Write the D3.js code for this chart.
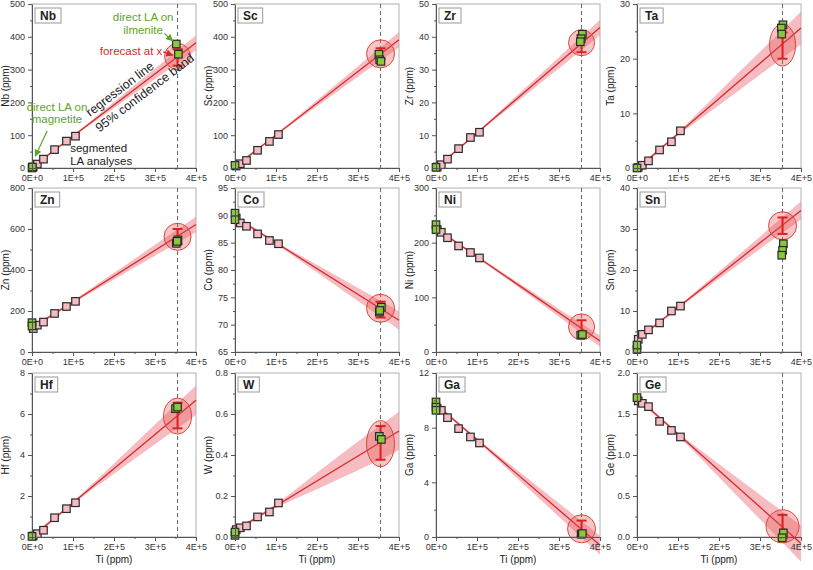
<!DOCTYPE html>
<html><head><meta charset="utf-8">
<script src="https://cdn.jsdelivr.net/npm/d3@7"></script>
<style>body{margin:0;background:#fff} svg{font-family:"Liberation Sans",Arial,sans-serif}</style>
</head><body><svg id="c" width="813" height="570"></svg>
<script>
// ---------- DATA ----------
const elements = ["Nb","Sc","Zr","Ta","Zn","Co","Ni","Sn","Hf","W","Ga","Ge"];
const tiDomain = [0, 400000];
const xTicks = [0, 100000, 200000, 300000, 400000];
const xTickLabels = ["0E+0","1E+5","2E+5","3E+5","4E+5"];
const yDomains = [[0,500],[0,500],[0,50],[0,30],[0,800],[65,95],[0,300],[0,40],[0,8],[0,0.8],[0,12],[0,2]];
const yTicks = [
  [0,100,200,300,400,500],[0,100,200,300,400,500],[0,10,20,30,40,50],[0,10,20,30],
  [0,200,400,600,800],[65,70,75,80,85,90,95],[0,100,200,300],[0,10,20,30,40],
  [0,2,4,6,8],[0,0.2,0.4,0.6,0.8],[0,4,8,12],[0,0.5,1,1.5,2]];
const yTickDecimals = [0,0,0,0,0,0,0,0,0,1,0,1];

// segmented LA analyses (pink)
const segTi = [3000, 13000, 28000, 55000, 84000, 106000];
const segValues = [
  [3,12,27,56,82,97],
  [6,13,23,54,81,102],
  [0.3,1.0,2.7,5.9,9.3,10.9],
  [0.1,0.5,1.3,3.3,4.8,6.8],
  [114,131,146,188,222,247],
  [89.5,88.6,88.0,86.6,85.4,84.8],
  [224,219,209,194,182,172],
  [3.1,4.3,5.4,7.1,10.0,11.2],
  [0.05,0.16,0.33,0.94,1.38,1.67],
  [0.036,0.045,0.054,0.098,0.122,0.166],
  [9.4,9.27,8.73,7.93,7.32,6.88],
  [1.66,1.63,1.59,1.41,1.30,1.22]];

// direct LA on magnetite (green, Ti ~ 0)
const magnetiteTi = [[0,1000],[0],[0],[0],[0,0],[0,0],[0,0],[0,0],[0],[0,0],[0,0,0],[0]];
const magnetiteValues = [[0,3],[8],[0.2],[0],[143,127],[90.4,89.2],[233,224],[0.6,1.7],[0.03],[0.008,0.024],[9.88,9.5,9.27],[1.70]];

// direct LA on ilmenite (green)
const ilmeniteTi = [
  [352000,357000],[351000,353000,356000],[357000,354000,352000],[356000,352000,353000],
  [356000,352000,354000],[357000,352000,353000],[353000,357000],[357000,355000,353000],
  [350000,355000],[352000,357000],[354000,357000],[357000,354000]];
const ilmeniteValues = [
  [378,347],[347,330,325],[40.8,39.4,38.5],[26.2,25.6,24.5],
  [547,530,540],[73.2,72.3,72.6],[31,32],[26.4,24.8,23.6],
  [6.26,6.34],[0.491,0.476],[0.2,0.25],[0.05,-0.01]];

// regression line: value at Ti = 0 and at Ti = 4E+5
const lineStart = [2,4,0,-0.2,118,89.7,226,3.0,0,0.03,9.7,1.7];
const lineEnd   = [382,391,42.8,25.6,622,70.8,20,34.5,6.67,0.517,-0.6,-0.08];

// 95% confidence band half-width at bandTi
const bandTi = [0, 100000, 200000, 300000, 400000];
const bandHalf = [
  [5,3,9,16,23],[5,3,9,16,24],[0.5,0.3,1.0,1.7,2.3],[0.4,0.3,1.2,2.1,3.0],
  [10,6,16,27,38],[0.4,0.25,0.7,1.2,1.7],[3,2,4,7,10],[0.5,0.3,0.9,1.5,2.2],
  [0.12,0.06,0.25,0.48,0.72],[0.01,0.01,0.04,0.07,0.094],[0.15,0.1,0.3,0.5,0.7],[0.03,0.02,0.08,0.15,0.22]];

// forecast at x
const forecastTi = 355000;
const forecastValue = [340,348,38.2,22.5,562,73.0,46,30.8,5.9,0.455,0.6,0.13];
const forecastLow   = [312,332,35.3,20.0,525,71.3,35,28.8,5.3,0.377,0.05,-0.02];
const forecastHigh  = [362,365,40.5,24.8,600,74.2,58,32.8,6.55,0.541,1.2,0.27];

// ---------- STYLE / LAYOUT ----------
const ellipsePx = [[13,13],[14,14],[13,13],[13,21],[13.5,13.5],[14,14],[13,13],[14,14],[14,18],[14,23],[14,14],[16.5,16.5]];
const colLeft = [32, 235, 436, 637], rowTop = [4, 188, 373], PW = 164, PH = 164;
const RED = "#d42a2a", GREEN_FILL = "#8cc63f", PINK_FILL = "#f6bcc4", TXT = "#333";
const GREEN_TXT = "#5da42c";

const svg = d3.select("#c");
const defs = svg.append("defs");
[["arrG", GREEN_TXT], ["arrR", RED]].forEach(([id, col]) => {
  defs.append("marker").attr("id", id).attr("viewBox", "0 0 10 10").attr("refX", 9).attr("refY", 5)
    .attr("markerWidth", 6).attr("markerHeight", 6).attr("orient", "auto")
    .append("path").attr("d", "M0,0L10,5L0,10z").attr("fill", col);
});

let nbScales = null;

elements.forEach((el, i) => {
  const c = i % 4, r = Math.floor(i / 4);
  const L = colLeft[c], T = rowTop[r];
  const x = d3.scaleLinear().domain(tiDomain).range([L, L + PW]);
  const y = d3.scaleLinear().domain(yDomains[i]).range([T + PH, T]);
  if (i === 0) nbScales = { x, y };
  const g = svg.append("g");

  // plot frame
  g.append("rect").attr("x", L).attr("y", T).attr("width", PW).attr("height", PH)
    .attr("fill", "#fff").attr("stroke", "#b0b0b0");

  const lineAt = t => lineStart[i] + (lineEnd[i] - lineStart[i]) * (t - tiDomain[0]) / (tiDomain[1] - tiDomain[0]);

  // confidence band
  const area = d3.area().x(d => x(d[0])).y0(d => y(lineAt(d[0]) - d[1])).y1(d => y(lineAt(d[0]) + d[1]))
    .curve(d3.curveCatmullRom);
  g.append("path").datum(bandTi.map((t, k) => [t, bandHalf[i][k]])).attr("d", area)
    .attr("fill", "#f08f98").attr("opacity", 0.6);

  // dashed vertical line at forecast Ti
  g.append("line").attr("x1", x(forecastTi)).attr("x2", x(forecastTi)).attr("y1", T).attr("y2", T + PH)
    .attr("stroke", "#666").attr("stroke-dasharray", "4,3").attr("stroke-width", 1);

  // regression line
  g.append("line").attr("x1", x(tiDomain[0])).attr("y1", y(lineAt(tiDomain[0])))
    .attr("x2", x(tiDomain[1])).attr("y2", y(lineAt(tiDomain[1])))
    .attr("stroke", RED).attr("stroke-width", 1.3);

  // segmented analyses
  const S = 7.5;
  g.selectAll(".seg").data(segTi.map((t, k) => [t, segValues[i][k]])).join("rect")
    .attr("x", d => x(d[0]) - S / 2).attr("y", d => y(d[1]) - S / 2).attr("width", S).attr("height", S)
    .attr("fill", PINK_FILL).attr("stroke", "#2a2a2a").attr("stroke-width", 1.2);

  // magnetite
  g.selectAll(".mag").data(magnetiteTi[i].map((t, k) => [t, magnetiteValues[i][k]])).join("rect")
    .attr("x", d => x(d[0]) - S / 2).attr("y", d => y(d[1]) - S / 2).attr("width", S).attr("height", S)
    .attr("fill", GREEN_FILL).attr("stroke", "#2a2a2a").attr("stroke-width", 1.2);

  // forecast ellipse
  g.append("ellipse").attr("cx", x(forecastTi)).attr("cy", y(forecastValue[i]))
    .attr("rx", ellipsePx[i][0]).attr("ry", ellipsePx[i][1])
    .attr("fill", "rgba(232,80,80,0.33)").attr("stroke", "#d9463f").attr("stroke-width", 1);

  // error bar
  const fx = x(forecastTi);
  const eb = g.append("g").attr("stroke", "#e01f1f").attr("stroke-width", 2);
  eb.append("line").attr("x1", fx).attr("x2", fx).attr("y1", y(forecastLow[i])).attr("y2", y(forecastHigh[i]));
  [forecastLow[i], forecastHigh[i]].forEach(v => eb.append("line").attr("x1", fx - 5).attr("x2", fx + 5)
    .attr("y1", y(v)).attr("y2", y(v)));

  // ilmenite
  g.selectAll(".ilm").data(ilmeniteTi[i].map((t, k) => [t, ilmeniteValues[i][k]])).join("rect")
    .attr("x", d => x(d[0]) - S / 2).attr("y", d => y(d[1]) - S / 2).attr("width", S).attr("height", S)
    .attr("fill", GREEN_FILL).attr("stroke", "#2a2a2a").attr("stroke-width", 1.2);

  // axes
  const fmt = yTickDecimals[i] ? d3.format(".1f") : d3.format("d");
  const yAx = g.append("g").attr("transform", `translate(${L},0)`)
    .call(d3.axisLeft(y).tickValues(yTicks[i]).tickFormat(fmt).tickSize(4).tickSizeOuter(0));
  const st = yTicks[i][1] - yTicks[i][0];
  const yMinor = yTicks[i].slice(0, -1).map(v => v + st / 2);
  g.append("g").attr("transform", `translate(${L},0)`)
    .call(d3.axisLeft(y).tickValues(yMinor).tickFormat("").tickSize(2).tickSizeOuter(0))
    .select(".domain").remove();
  const xAx = g.append("g").attr("transform", `translate(0,${T + PH})`)
    .call(d3.axisBottom(x).tickValues(xTicks).tickFormat((d, k) => xTickLabels[k]).tickSize(4).tickSizeOuter(0));
  g.append("g").attr("transform", `translate(0,${T + PH})`)
    .call(d3.axisBottom(x).tickValues(xTicks.slice(0, -1).map(v => v + 50000)).tickFormat("").tickSize(2).tickSizeOuter(0))
    .select(".domain").remove();
  g.selectAll(".tick line").attr("stroke", "#555");
  g.selectAll(".domain").attr("stroke", "#555");
  [yAx, xAx].forEach(a => a.selectAll("text").attr("fill", TXT).style("font-size", "9px")
    .style("font-family", '"Liberation Sans",Arial,sans-serif'));

  // y axis title
  g.append("text").attr("transform", `translate(${L - 23},${T + PH / 2}) rotate(-90)`)
    .attr("text-anchor", "middle").attr("font-size", 10).attr("fill", "#222").text(el + " (ppm)");
  if (r === 2) {
    g.append("text").attr("x", L + PW / 2).attr("y", T + PH + 26).attr("text-anchor", "middle")
      .attr("font-size", 10).attr("fill", "#222").text("Ti (ppm)");
  }

  // panel label box
  const lg = g.append("g");
  const box = lg.append("rect");
  const lbl = lg.append("text").attr("x", L + 8).attr("y", T + 16).attr("font-size", 12)
    .attr("font-weight", "bold").attr("fill", "#222").text(el);
  const bw = lbl.node().getComputedTextLength();
  box.attr("x", L + 3).attr("y", T + 4).attr("width", bw + 10).attr("height", 15)
    .attr("fill", "#fff").attr("stroke", "#999");
});

// ---------- annotations (Nb panel, data coordinates) ----------
{
  const { x, y } = nbScales;
  const a = svg.append("g").attr("font-size", 11.5);
  a.append("text").attr("x", x(271000)).attr("y", y(448)).attr("text-anchor", "middle").attr("fill", GREEN_TXT).text("direct LA on");
  a.append("text").attr("x", x(271000)).attr("y", y(410)).attr("text-anchor", "middle").attr("fill", GREEN_TXT).text("ilmenite");
  a.append("line").attr("x1", x(323000)).attr("y1", y(410)).attr("x2", x(343000)).attr("y2", y(388))
    .attr("stroke", GREEN_TXT).attr("stroke-width", 1.2).attr("marker-end", "url(#arrG)");
  a.append("text").attr("x", x(318000)).attr("y", y(343)).attr("text-anchor", "end").attr("fill", RED).text("forecast at x");
  a.append("line").attr("x1", x(320000)).attr("y1", y(354)).attr("x2", x(343000)).attr("y2", y(344))
    .attr("stroke", RED).attr("stroke-width", 1.2).attr("marker-end", "url(#arrR)");
  a.append("text").attr("x", x(61000)).attr("y", y(175)).attr("text-anchor", "middle").attr("fill", GREEN_TXT).text("direct LA on");
  a.append("text").attr("x", x(61000)).attr("y", y(138)).attr("text-anchor", "middle").attr("fill", GREEN_TXT).text("magnetite");
  a.append("line").attr("x1", x(37000)).attr("y1", y(113)).attr("x2", x(8000)).attr("y2", y(36))
    .attr("stroke", GREEN_TXT).attr("stroke-width", 1.2).attr("marker-end", "url(#arrG)");
  a.append("text").attr("x", x(93000)).attr("y", y(48)).attr("fill", "#222").text("segmented");
  a.append("text").attr("x", x(93000)).attr("y", y(10)).attr("fill", "#222").text("LA analyses");
  // rotated labels along regression line
  const ang = Math.atan2(y(lineEnd[0]) - y(lineStart[0]), x(tiDomain[1]) - x(tiDomain[0])) * 180 / Math.PI;
  const lineAt = t => lineStart[0] + (lineEnd[0] - lineStart[0]) * t / tiDomain[1];
  const place = (t, off, txt) => {
    const px = x(t), py = y(lineAt(t));
    a.append("text").attr("transform", `translate(${px},${py}) rotate(${ang}) translate(0,${off})`)
      .attr("text-anchor", "middle").attr("font-size", 12.5).attr("fill", "#222").text(txt);
  };
  place(228000, -5, "regression line");
  place(262000, 13, "95% confidence band");
}
</script></body></html>
